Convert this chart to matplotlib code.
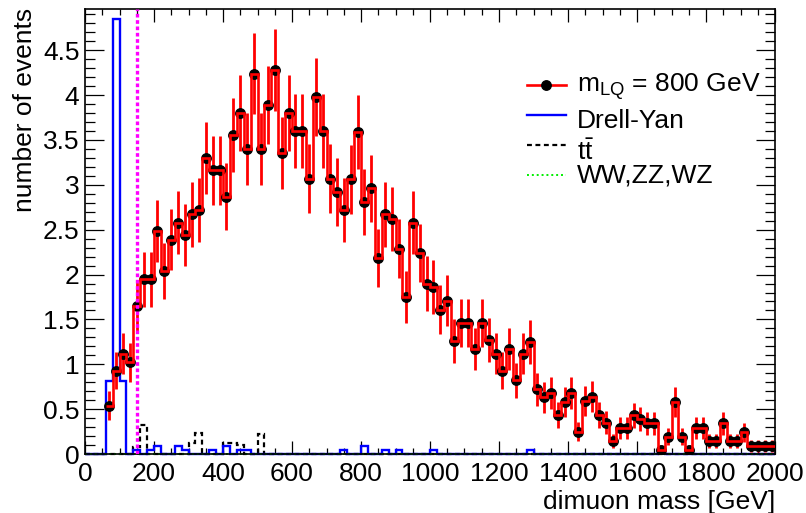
import numpy as np
import matplotlib
matplotlib.use('Agg')
import matplotlib.pyplot as plt
from matplotlib.ticker import MultipleLocator, FormatStrFormatter

plt.rcParams['font.family'] = ['Liberation Sans', 'DejaVu Sans']
plt.rcParams['mathtext.fontset'] = 'custom'
plt.rcParams['mathtext.rm'] = 'Liberation Sans'
plt.rcParams['mathtext.it'] = 'Liberation Sans:italic'
plt.rcParams['mathtext.bf'] = 'Liberation Sans:bold'

# =============================================================================
# data (20 GeV bins)
# =============================================================================
bin_width = 20
sig_start = 60          # lower edge of first signal bin

# m_LQ = 800 GeV signal, bins 60-80 ... 1980-2000
signal = [0.54, 0.93, 1.12, 1.02, 1.65, 1.95, 1.95, 2.49, 2.04, 2.39,
          2.58, 2.44, 2.67, 2.72, 3.30, 3.16, 3.16, 2.87, 3.56, 3.80,
          3.40, 4.24, 3.40, 3.89, 4.28, 3.35, 3.80, 3.60, 3.60, 3.07,
          3.98, 3.60, 3.07, 2.92, 2.72, 3.06, 3.59, 2.81, 2.96, 2.18,
          2.67, 2.62, 2.29, 1.75, 2.58, 2.24, 1.90, 1.86, 1.61, 1.71,
          1.26, 1.46, 1.46, 1.17, 1.46, 1.27, 1.12, 0.93, 1.17, 0.82,
          1.12, 1.25, 0.72, 0.63, 0.68, 0.44, 0.58, 0.68, 0.25, 0.59,
          0.64, 0.44, 0.35, 0.145, 0.29, 0.29, 0.43, 0.39, 0.34, 0.34,
          0.05, 0.19, 0.58, 0.19, 0.05, 0.29, 0.29, 0.145, 0.145, 0.34,
          0.145, 0.145, 0.24, 0.09, 0.09, 0.09, 0.09]
signal_err = [0.161, 0.211, 0.232, 0.221, 0.281, 0.306, 0.306, 0.346, 0.313, 0.339,
              0.352, 0.342, 0.358, 0.361, 0.398, 0.389, 0.389, 0.371, 0.413, 0.427,
              0.404, 0.451, 0.404, 0.432, 0.453, 0.401, 0.427, 0.416, 0.416, 0.384,
              0.437, 0.416, 0.384, 0.374, 0.361, 0.383, 0.415, 0.367, 0.377, 0.323,
              0.358, 0.355, 0.332, 0.290, 0.352, 0.328, 0.302, 0.299, 0.278, 0.287,
              0.246, 0.265, 0.265, 0.237, 0.265, 0.247, 0.232, 0.211, 0.237, 0.198,
              0.232, 0.245, 0.186, 0.174, 0.181, 0.145, 0.167, 0.181, 0.110, 0.168,
              0.175, 0.145, 0.130, 0.083, 0.118, 0.118, 0.144, 0.137, 0.128, 0.128,
              0.049, 0.095, 0.167, 0.095, 0.049, 0.118, 0.118, 0.083, 0.083, 0.128,
              0.083, 0.083, 0.107, 0.066, 0.066, 0.066, 0.066]

# Drell-Yan: lower bin edge -> content (other bins empty)
dy_lo = [60, 80, 100, 140, 180, 200, 260, 280, 360, 400, 440, 460,
         740, 800, 860, 900, 1000, 1280, 1660]
dy_val = [0.81, 4.85, 0.81, 0.04, 0.045, 0.09, 0.09, 0.05, 0.045, 0.09, 0.05, 0.05,
          0.045, 0.09, 0.04, 0.04, 0.045, 0.04, 0.04]

# ttbar
tt_lo = [140, 160, 300, 320, 400, 420, 440, 500]
tt_val = [0.08, 0.32, 0.12, 0.23, 0.12, 0.12, 0.10, 0.22]

# WW,ZZ,WZ: nothing visible above zero
vv_lo = []
vv_val = []

mass_cut = 150

# =============================================================================
def fill(lo, val, nbins):
    h = np.zeros(nbins)
    for l, v in zip(lo, val):
        h[l // bin_width] = v
    return h


edges = np.arange(0, 2000 + bin_width, bin_width)
nb = len(edges) - 1
dy = fill(dy_lo, dy_val, nb)
tt = fill(tt_lo, tt_val, nb)
vv = fill(vv_lo, vv_val, nb)

sig_edges = np.arange(sig_start, sig_start + bin_width * (len(signal) + 1), bin_width)
centers = sig_edges[:-1] + bin_width / 2

FS = 19
W, H = 806, 513
fig = plt.figure(figsize=(W / 100, H / 100), dpi=100)
L, R, T, B = 85, 775, 9, 454
ax = fig.add_axes([L / W, 1 - B / H, (R - L) / W, (B - T) / H])

tt_style = dict(color='black', lw=1.6, ls=(0, (2.2, 1.6)))
dy_style = dict(color='#0000ff', lw=1.7)
vv_style = dict(color='#00ee00', lw=1.4, ls=(0, (1, 1.5)))
sig_style = dict(color='#ff0000', lw=1.9)

ax.stairs(tt, edges, baseline=None, zorder=2, clip_on=False, **tt_style)
ax.stairs(dy, edges, baseline=None, zorder=2.2, clip_on=False, **dy_style)
ax.stairs(vv, edges, baseline=None, zorder=2.4, clip_on=False, **vv_style)

ax.errorbar(centers, signal, yerr=signal_err, fmt='none', ecolor='#ff0000',
            elinewidth=2.0, capsize=0, zorder=3)
ax.plot(centers, signal, 'o', color='black', ms=6.8, zorder=3.5)
ax.stairs(signal, sig_edges, baseline=None, zorder=4, **sig_style)

ax.axvline(mass_cut, color='#ff00ff', lw=2.4, ls=(0, (1.1, 0.8)), zorder=5)

ax.set_xlim(0, 2000)
ax.set_ylim(0, 4.96)
ax.xaxis.set_major_locator(MultipleLocator(200))
ax.xaxis.set_minor_locator(MultipleLocator(50))
ax.yaxis.set_major_locator(MultipleLocator(0.5))
ax.yaxis.set_minor_locator(MultipleLocator(0.1))
ax.yaxis.set_major_formatter(FormatStrFormatter('%g'))
ax.tick_params(which='both', direction='in', top=True, right=True,
               labelsize=FS, width=0.9, color='black')
ax.tick_params(axis='y', which='major', length=13.5, pad=4)
ax.tick_params(axis='y', which='minor', length=7)
ax.tick_params(axis='x', which='major', length=9.5, pad=6)
ax.tick_params(axis='x', which='minor', length=4.5)
for s in ax.spines.values():
    s.set_linewidth(1.2)

fig.text(25 / W, 1 - 8 / H, 'number of events', rotation=90, ha='center', va='top',
         fontsize=FS)
fig.text(R / W, 1 - 502 / H, 'dimuon mass [GeV]', ha='right', va='center', fontsize=FS)

# legend drawn by hand (ROOT TLegend look)
def px(x, y):
    return (x - L) / (R - L), (B - y) / (B - T)

rows = [85, 115, 145, 175]
base = [92, 128, 160, 183]
styles = [sig_style, dy_style, tt_style, vv_style]
labels = [r'$\mathrm{m}_{\mathrm{LQ}}$ = 800 GeV', 'Drell-Yan',
          r'$\mathrm{t}\bar{\mathrm{t}}$', 'WW,ZZ,WZ']
for ry, by, st, lab in zip(rows, base, styles, labels):
    x0, y0 = px(527, ry)
    x1, _ = px(566, ry)
    ax.plot([x0, x1], [y0, y0], transform=ax.transAxes, clip_on=False, **st)
    tx, ty = px(577, by)
    ax.text(tx, ty, lab, transform=ax.transAxes, ha='left', va='baseline', fontsize=FS)
mx, my = px(546.5, rows[0])
ax.plot([mx], [my], 'o', color='black', ms=6.8, transform=ax.transAxes, clip_on=False)

fig.savefig('out.png', dpi=100)
